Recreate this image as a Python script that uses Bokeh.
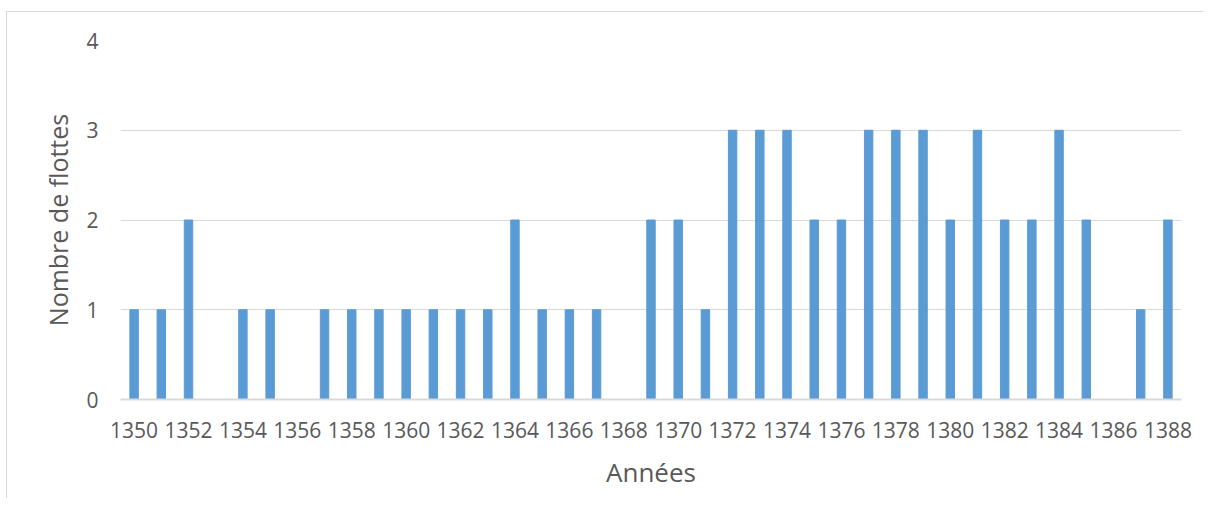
from bokeh.plotting import figure
from bokeh.models import FixedTicker, Range1d
from bokeh.embed import file_html
from bokeh.resources import INLINE

years = list(range(1350, 1389))
fleets = [1, 1, 2, 0, 1, 1, 0, 1, 1, 1,
          1, 1, 1, 1, 2, 1, 1, 1, 0, 2,
          2, 1, 3, 3, 3, 2, 2, 3, 3, 3,
          2, 3, 2, 2, 3, 2, 0, 1, 2]
x_ticks = list(range(1350, 1389, 2))
y_ticks = [0, 1, 2, 3, 4]

FONT = "Open Sans"
TXT = "#595959"
GRID = "#d9d9d9"

p = figure(width=1197, height=487, output_backend="svg", toolbar_location=None,
           x_range=Range1d(1349.5, 1388.5), y_range=Range1d(0, 4),
           min_border_left=113, min_border_right=23, min_border_top=28,
           min_border_bottom=100)
p.margin = (11, 0, 0, 6)
p.styles = {"border-top": "1px solid #d9d9d9", "border-left": "1px solid #d9d9d9"}
p.outline_line_color = None

p.vbar(x=years, top=fleets, width=0.31, color="#5B9BD5")

p.xgrid.grid_line_color = None
p.ygrid.grid_line_color = GRID
p.ygrid.grid_line_width = 1

p.xaxis.ticker = FixedTicker(ticks=x_ticks)
p.yaxis.ticker = FixedTicker(ticks=y_ticks)
for ax in (p.xaxis[0], p.yaxis[0]):
    ax.major_tick_line_color = None
    ax.minor_tick_line_color = None
    ax.major_label_text_font = FONT
    ax.major_label_text_font_size = "21px"
    ax.major_label_text_color = TXT
    ax.axis_label_text_font = FONT
    ax.axis_label_text_color = TXT
    ax.axis_label_text_font_style = "normal"
p.xaxis.axis_line_color = GRID
p.xaxis.axis_line_width = 2
p.yaxis.axis_line_color = None
p.xaxis.axis_label = "Années"
p.yaxis.axis_label = "Nombre de flottes"
p.xaxis.axis_label_text_font_size = "26px"
p.yaxis.axis_label_text_font_size = "25px"
p.xaxis.major_label_standoff = 16
p.yaxis.major_label_standoff = 16
p.xaxis.axis_label_standoff = 13
p.yaxis.axis_label_standoff = 8

open("out.html", "w").write(file_html(p, INLINE))
